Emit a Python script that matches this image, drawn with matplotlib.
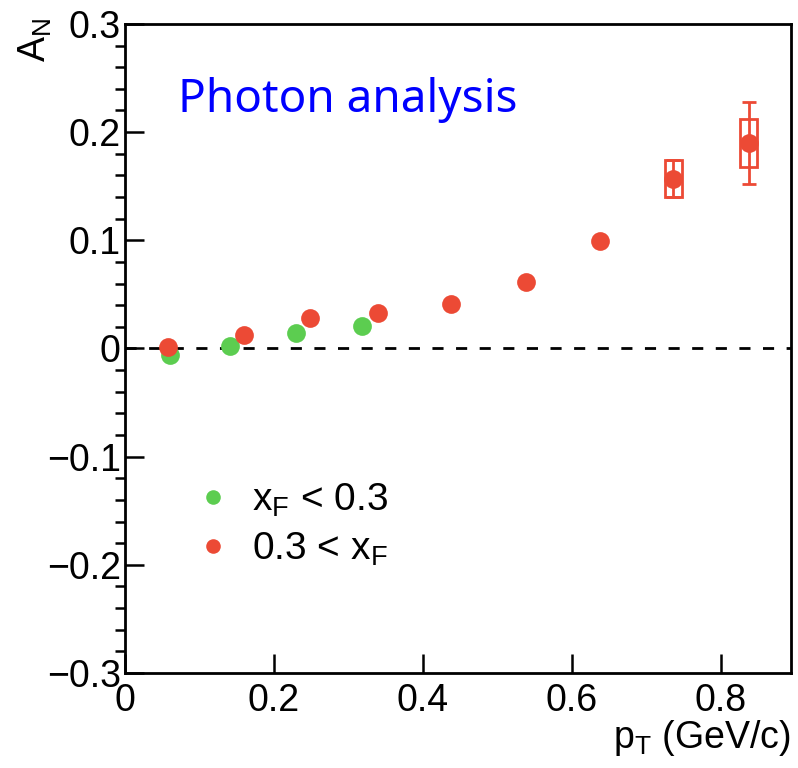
import matplotlib
matplotlib.use('Agg')
import matplotlib.pyplot as plt
from matplotlib.patches import Rectangle
from matplotlib.lines import Line2D

plt.rcParams['font.family'] = ['Liberation Sans', 'DejaVu Sans']
plt.rcParams['mathtext.fontset'] = 'custom'
plt.rcParams['mathtext.rm'] = 'Liberation Sans'
plt.rcParams['mathtext.it'] = 'Liberation Sans'

# data
pt_low = [0.061, 0.141, 0.230, 0.318]
an_low = [-0.006, 0.0026, 0.0146, 0.021]

pt_high = [0.058, 0.160, 0.249, 0.339, 0.438, 0.538, 0.637, 0.736, 0.837]
an_high = [0.0017, 0.0125, 0.0285, 0.0325, 0.041, 0.0617, 0.0997, 0.157, 0.190]
stat_high = [0.0, 0.0, 0.0, 0.0, 0.0, 0.0, 0.0, 0.017, 0.0375]
sys_high = [0.0, 0.0, 0.0, 0.0, 0.0, 0.0, 0.0, 0.017, 0.022]

green = '#5ccd50'
red = '#ec4a35'

fig = plt.figure(figsize=(7.98, 7.68), dpi=100)
ax = fig.add_axes([0.1566, 0.1237, 0.8343, 0.8451])

ax.set_xlim(0, 0.8936)
ax.set_ylim(-0.3, 0.3)

ax.axhline(0, color='black', lw=2, ls=(0, (4, 4.5)), zorder=1)

# systematic boxes
for x, y, s in zip(pt_high, an_high, sys_high):
    if s > 0:
        ax.add_patch(Rectangle((x - 0.011, y - s), 0.022, 2 * s, fill=False,
                               edgecolor=red, lw=2, zorder=2))

ax.errorbar(pt_high, an_high, yerr=stat_high, fmt='none', ecolor=red,
            elinewidth=2, capsize=5, capthick=2, zorder=2)

ax.plot(pt_low, an_low, 'o', color=green, ms=13.5, mec='none', zorder=3)
ax.plot(pt_high, an_high, 'o', color=red, ms=13.5, mec='none', zorder=4)

ax.set_xticks([0, 0.2, 0.4, 0.6, 0.8])
ax.set_xticklabels(['0', '0.2', '0.4', '0.6', '0.8'])
ax.set_yticks([-0.3, -0.2, -0.1, 0, 0.1, 0.2, 0.3])
ax.set_yticklabels(['\u22120.3', '\u22120.2', '\u22120.1', '0', '0.1', '0.2', '0.3'])
ax.set_yticks([i * 0.02 - 0.3 for i in range(31)], minor=True)
ax.tick_params(axis='both', direction='in', labelsize=27, width=1.8, color='black')
ax.tick_params(axis='y', which='major', length=14, pad=3)
ax.tick_params(axis='y', which='minor', length=7, width=1.8)
ax.tick_params(axis='x', which='major', length=14, pad=7)
ax.tick_params(top=False, right=False)
for sp in ax.spines.values():
    sp.set_linewidth(2)

ax.text(-0.135, 1.009, r'$\mathregular{A_N}$', transform=ax.transAxes, rotation=90,
        ha='center', va='top', fontsize=27)
ax.text(1.0, -0.069, r'$\mathregular{p_T}$ (GeV/c)', transform=ax.transAxes,
        ha='right', va='top', fontsize=27)

ax.text(0.08, 0.883, 'Photon analysis', transform=ax.transAxes, color='#0000ff',
        fontsize=33, family='Noto Sans', va='center', ha='left')

handles = [Line2D([], [], ls='none', marker='o', color=green, mec='none', ms=10.5),
           Line2D([], [], ls='none', marker='o', color=red, mec='none', ms=10.5)]
ax.legend(handles, [r'$\mathregular{x_F}$ < 0.3', r'0.3 < $\mathregular{x_F}$'],
          loc='center left', bbox_to_anchor=(0.1055, 0.229), frameon=False,
          fontsize=28, handlelength=0.9, handletextpad=0.57, borderpad=0,
          borderaxespad=0, labelspacing=0.3)

fig.savefig('out.png', dpi=100)
